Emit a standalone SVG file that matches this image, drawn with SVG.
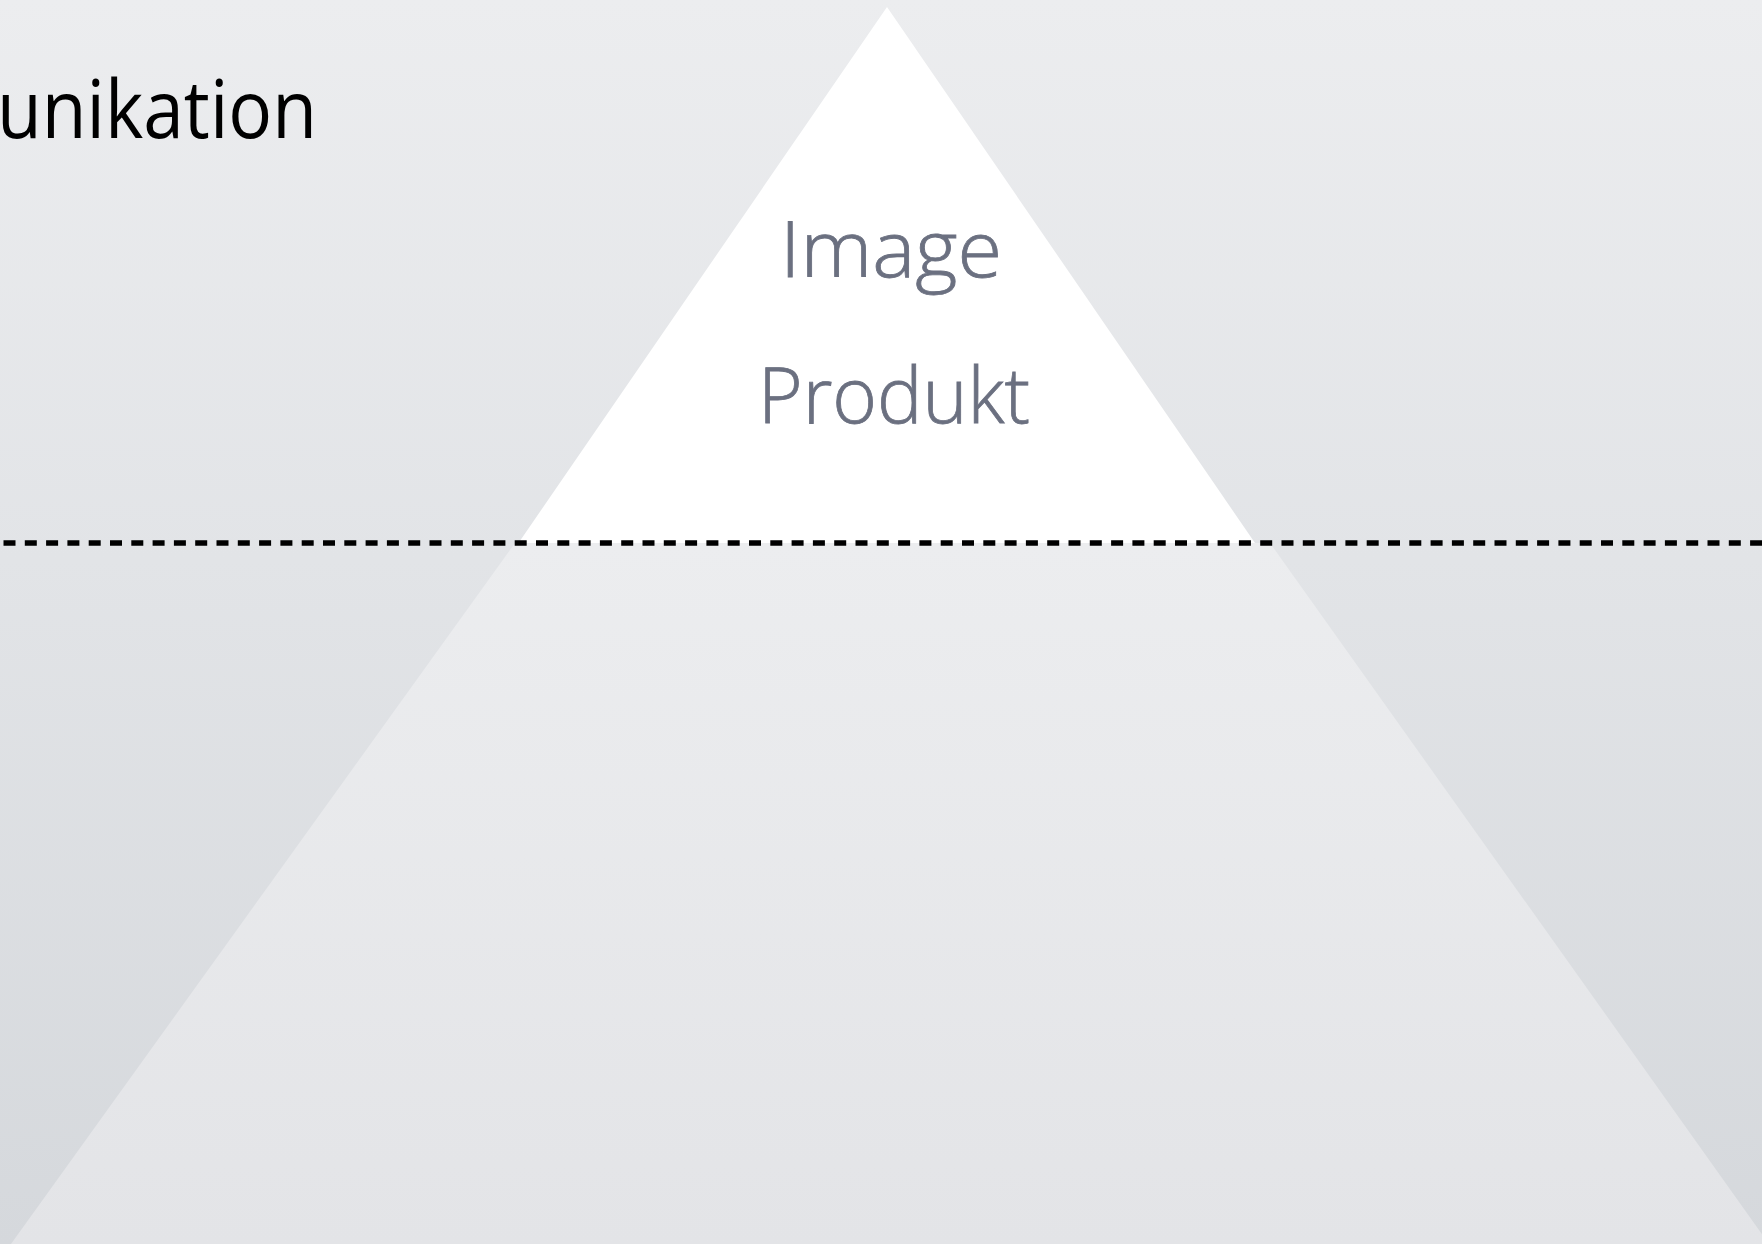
<svg xmlns="http://www.w3.org/2000/svg" width="1762" height="1244" viewBox="0 0 1762 1244">
  <defs>
    <linearGradient id="bg" x1="0" y1="0" x2="0" y2="1">
      <stop offset="0" stop-color="#ecedef"/>
      <stop offset="0.45" stop-color="#e2e4e7"/>
      <stop offset="1" stop-color="#d5d8dc"/>
    </linearGradient>
    <linearGradient id="base" x1="0" y1="543" x2="0" y2="1244" gradientUnits="userSpaceOnUse">
      <stop offset="0" stop-color="#ecedef"/>
      <stop offset="1" stop-color="#e3e4e7"/>
    </linearGradient>
    <style>
      .title { font-family: "Open Sans", "Liberation Sans", sans-serif; font-size: 80px; fill: #000000; }
      .tier { font-family: "Open Sans", "Liberation Sans", sans-serif; font-weight: 300; font-size: 77px; fill: #6b7080; text-anchor: middle; stroke: #6b7080; stroke-width: 0.8; }
      .divider { stroke: #000000; stroke-width: 5.5; stroke-dasharray: 12 9.3; fill: none; }
    </style>
  </defs>

  <rect x="0" y="0" width="1762" height="1244" fill="url(#bg)"/>

  <text class="title" x="-3" y="138" textLength="320" lengthAdjust="spacingAndGlyphs">unikation</text>

  <!-- lower, submerged part of the pyramid -->
  <g id="pyramid-base">
    <polygon points="515,543 1270,543 1769,1244 11,1244" fill="url(#base)"/>
  </g>

  <!-- visible tip of the pyramid -->
  <g id="pyramid-tip">
    <polygon points="887,7 518.5,543 1255,543" fill="#ffffff"/>
    <text class="tier" x="891" y="277" textLength="222" lengthAdjust="spacingAndGlyphs">Image</text>
    <text class="tier" x="894" y="423" textLength="272" lengthAdjust="spacingAndGlyphs">Produkt</text>
  </g>

  <g id="connectors">
    <line class="divider" x1="3.5" y1="543" x2="1762" y2="543"/>
  </g>
</svg>
